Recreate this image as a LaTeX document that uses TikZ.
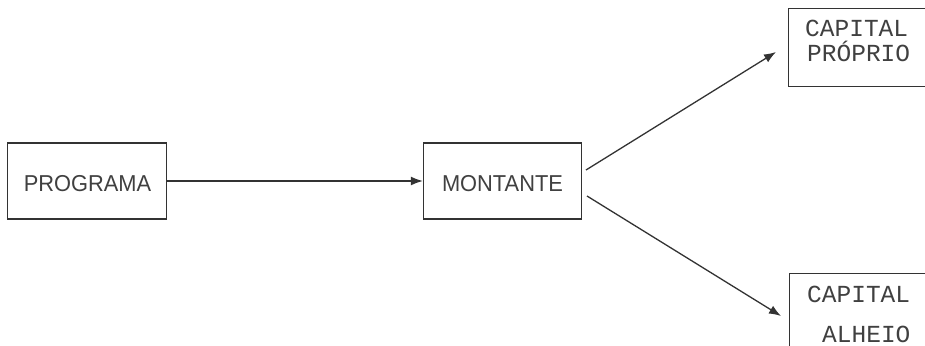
\documentclass[tikz,border=0pt]{standalone}
\usepackage{fontspec}
\newfontfamily\sansf[FakeStretch=0.95]{Liberation Sans}
\newfontfamily\monof{Liberation Mono}
\usetikzlibrary{arrows.meta}
\begin{document}
\begin{tikzpicture}[x=1pt,y=-1pt,
  box/.style={draw=black!80,line width=1.3pt,inner sep=0pt},
  conn/.style={draw=black!80,line width=1.3pt,-{Latex[length=12pt,width=9pt]}},
  lbl/.style={font=\sansf\fontsize{23}{26}\selectfont,text=black!75},
  mlbl/.style={font=\monof\fontsize{24.5}{28}\selectfont,text=black!75,anchor=base west,inner sep=0pt}]
\useasboundingbox (0,0) rectangle (925,345);
\clip (0,0) rectangle (925,345);
\node[box,minimum width=159pt,minimum height=76pt] (prog) at (87,181) {};
\node[lbl] (progt) at (87.5,184) {PROGRAMA};
\node[box,minimum width=158pt,minimum height=76pt] (mont) at (502.5,181) {};
\node[lbl] (montt) at (502.5,183.5) {MONTANTE};
\node[box,minimum width=160pt,minimum height=78pt,anchor=north west] (cp) at (788,8) {};
\node[mlbl] (cp1) at (805,37) {CAPITAL};
\node[mlbl] (cp2) at (807,62) {PRÓPRIO};
\node[box,minimum width=160pt,minimum height=100pt,anchor=north west] (ca) at (789,273) {};
\node[mlbl] (ca1) at (807,302) {CAPITAL};
\node[mlbl] (ca2) at (822,342) {ALHEIO};
\coordinate (m1) at (586,170);
\coordinate (m2) at (587,196);
\coordinate (t1) at (776,52);
\coordinate (t2) at (781,316);
\draw[conn] (prog.east) -- (mont.west);
\draw[conn] (m1) -- (t1);
\draw[conn] (m2) -- (t2);
\end{tikzpicture}
\end{document}
